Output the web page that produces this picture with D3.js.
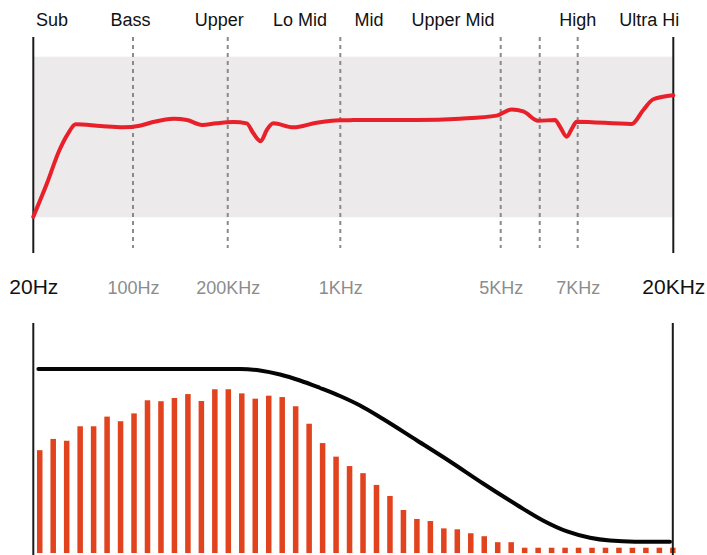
<!DOCTYPE html>
<html>
<head>
<meta charset="utf-8">
<script src="https://cdn.jsdelivr.net/npm/d3@7"></script>
<style>
  html, body { margin: 0; padding: 0; background: #ffffff; }
  svg { display: block; font-family: "Liberation Sans", Arial, sans-serif; }
</style>
</head>
<body>
<svg id="chart" width="707" height="555"></svg>
<script>
// ---- Frequency response (top panel) ----
const tickFreqs  = [20, 100, 200, 1000, 5000, 7000, 20000];
const tickLabels = ["20Hz", "100Hz", "200KHz", "1KHz", "5KHz", "7KHz", "20KHz"];
const gridFreqs  = [100, 200, 1000, 5000, 6000, 7000];
const bandNames  = ["Sub", "Bass", "Upper", "Lo Mid", "Mid", "Upper Mid", "High", "Ultra Hi"];
const bandFreqs  = [35, 98, 191, 714, 1716, 3811, 7000, 16737];

const respFreq  = [20, 31, 41, 48, 54, 74, 92, 107, 121, 143, 157, 173, 188, 240, 335, 382, 434, 477, 524, 666, 832,
                   1000, 1242, 1491, 2905, 3985, 4900, 5282, 5579, 5964, 6403, 6534, 6711, 6850, 6974, 14343, 15921, 17280, 20000];
const respLevel = [0.4, 21.2, 41.9, 52.3, 57.9, 56.8, 56.0, 57.0, 59.3, 61.4, 60.6, 57.5, 58.5, 59.3, 58.5, 52.3, 47.4, 54.3, 58.5, 56.0, 58.9,
                   60.4, 60.5, 60.6, 60.6, 61.4, 63.3, 67.2, 66.0, 60.1, 60.6, 56.4, 50.2, 55.4, 59.5, 58.1, 66.8, 73.5, 76.0];

// ---- Spectrum bars + envelope (bottom panel) ----
const barLevels = [44.7, 49.6, 48.8, 55.1, 55.1, 59.3, 57.3, 60.7, 66.4, 66.0, 67.4, 69.1, 66.1, 71.2, 71.2, 69.4,
                   67.1, 68.4, 67.8, 63.8, 56.2, 47.8, 41.9, 37.8, 34.7, 29.6, 24.8, 18.7, 14.8, 13.9, 10.7, 10.3,
                   8.6, 7.3, 4.7, 4.7, 2.3, 2.3, 2.3, 2.3, 2.3, 2.3, 2.3, 2.3, 2.3, 2.3, 2.3, 2.3];
const envIndex = [-0.1, 14.87, 16.35, 17.84, 19.32, 20.81, 22.29, 23.78, 25.49, 28.01, 30.46, 32.91, 35.43,
                  37.36, 39.15, 40.85, 42.34, 44.19, 46.79];
const envLevel = [80, 80, 79.35, 77.6, 75.0, 71.74, 68.26, 64.13, 58.26, 48.91, 39.78, 30.22, 20.87,
                  14.13, 9.35, 6.61, 5.39, 4.91, 4.91];

const svg = d3.select("#chart");

// Layout
const left = 33.3, right = 673.3, plotW = right - left;
const topY0 = 37, topY1 = 253;          // black guide lines
const bandTop = 56.7, bandBottom = 217.3;
const botTop = 323, botBottom = 553;

// Piecewise frequency scale: the axis breakpoints are spaced by hand, not logarithmically
const xTop = d3.scaleLinear()
  .domain([20, 100, 200, 1000, 5000, 6000, 7000, 20000])
  .range([0, 0.1558, 0.3038, 0.4797, 0.7303, 0.7913, 0.8506, 1].map(f => left + f * plotW));

const yTop = d3.scaleLinear().domain([0, 100]).range([bandBottom, bandTop]);

// Shaded band
svg.append("rect")
  .attr("x", left).attr("y", yTop(100))
  .attr("width", plotW).attr("height", yTop(0) - yTop(100))
  .attr("fill", "#eceaeb");

// Dashed dividers
svg.append("g").selectAll("line").data(gridFreqs).join("line")
  .attr("x1", d => xTop(d)).attr("x2", d => xTop(d))
  .attr("y1", topY0).attr("y2", 248)
  .attr("stroke", "#8a8a8a").attr("stroke-width", 2)
  .attr("stroke-dasharray", "4,4");

// End guides
svg.append("g").selectAll("line").data([20, 20000]).join("line")
  .attr("x1", d => xTop(d)).attr("x2", d => xTop(d))
  .attr("y1", topY0).attr("y2", topY1)
  .attr("stroke", "#1a1a1a").attr("stroke-width", 2);

// Response curve
const respLine = d3.line()
  .x((d, i) => xTop(respFreq[i]))
  .y(d => yTop(d))
  .curve(d3.curveMonotoneX);
svg.append("path")
  .datum(respLevel)
  .attr("d", respLine)
  .attr("fill", "none")
  .attr("stroke", "#e8202a").attr("stroke-width", 4)
  .attr("stroke-linecap", "round").attr("stroke-linejoin", "round");

// Band names
svg.append("g").selectAll("text").data(bandNames).join("text")
  .attr("x", (d, i) => xTop(bandFreqs[i]))
  .attr("y", 26)
  .attr("text-anchor", "middle")
  .attr("font-size", 18)
  .attr("fill", "#111")
  .text(d => d);

// Frequency axis labels
const axis = d3.axisBottom(xTop)
  .tickValues(tickFreqs)
  .tickFormat((d, i) => tickLabels[i])
  .tickSize(0).tickPadding(0);
const gAxis = svg.append("g").attr("transform", "translate(0,278)").call(axis);
gAxis.select(".domain").remove();
gAxis.selectAll("text")
  .attr("dy", null).attr("y", 16)
  .attr("font-family", "Liberation Sans, Arial, sans-serif")
  .attr("font-size", (d, i) => (i === 0 || i === tickFreqs.length - 1) ? 21 : 18)
  .attr("fill", (d, i) => (i === 0 || i === tickFreqs.length - 1) ? "#111" : "#8c8c8c");

// ---- Bottom panel ----
const xBar = d3.scaleBand()
  .domain(d3.range(barLevels.length))
  .range([33, 33 + 48 * 13.47])
  .paddingInner(0.59).paddingOuter(0.295);
const yBot = d3.scaleLinear().domain([0, 100]).range([botBottom, botTop]);
const xIdx = d3.scaleLinear()
  .domain([0, barLevels.length - 1])
  .range([xBar(0) + xBar.bandwidth() / 2, xBar(barLevels.length - 1) + xBar.bandwidth() / 2]);

svg.append("g").selectAll("rect").data(barLevels).join("rect")
  .attr("x", (d, i) => xBar(i))
  .attr("y", d => yBot(d))
  .attr("width", xBar.bandwidth())
  .attr("height", d => yBot(0) - yBot(d))
  .attr("fill", "#e2431f");

svg.append("g").selectAll("line").data([left, 672.8]).join("line")
  .attr("x1", d => d).attr("x2", d => d)
  .attr("y1", botTop).attr("y2", 555)
  .attr("stroke", "#1a1a1a").attr("stroke-width", 2);

const envLine = d3.line()
  .x((d, i) => xIdx(envIndex[i]))
  .y(d => yBot(d))
  .curve(d3.curveMonotoneX);
svg.append("path")
  .datum(envLevel)
  .attr("d", envLine)
  .attr("fill", "none")
  .attr("stroke", "#050505").attr("stroke-width", 4)
  .attr("stroke-linecap", "round");
</script>
</body>
</html>
